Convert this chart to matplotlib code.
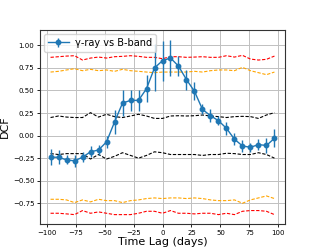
import matplotlib
matplotlib.use("Agg")
import matplotlib.pyplot as plt

lags = [-96.6, -89.7, -82.8, -75.9, -69.0, -62.1, -55.2, -48.3, -41.4, -34.5,
        -27.6, -20.7, -13.8, -6.9, 0.0, 6.9, 13.8, 20.7, 27.6, 34.5,
        41.4, 48.3, 55.2, 62.1, 69.0, 75.9, 82.8, 89.7, 96.6]

dcf = [-0.24, -0.24, -0.27, -0.28, -0.24, -0.18, -0.16, -0.07, 0.15, 0.36,
       0.39, 0.39, 0.52, 0.75, 0.83, 0.86, 0.77, 0.62, 0.49, 0.29,
       0.22, 0.165, 0.08, -0.04, -0.115, -0.13, -0.10, -0.11, -0.03]

dcf_err = [0.09, 0.08, 0.05, 0.07, 0.055, 0.06, 0.06, 0.07, 0.13, 0.14,
           0.12, 0.12, 0.15, 0.26, 0.22, 0.20, 0.11, 0.11, 0.10, 0.055,
           0.07, 0.05, 0.075, 0.07, 0.066, 0.05, 0.065, 0.08, 0.10]

red_up = [0.867, 0.874, 0.881, 0.885, 0.837, 0.859, 0.870, 0.859, 0.874, 0.878,
          0.885, 0.878, 0.867, 0.867, 0.852, 0.874, 0.874, 0.867, 0.870, 0.874,
          0.867, 0.867, 0.885, 0.870, 0.889, 0.848, 0.837, 0.845, 0.881]
orange_up = [0.704, 0.712, 0.727, 0.741, 0.719, 0.734, 0.719, 0.727, 0.712, 0.734,
             0.719, 0.712, 0.704, 0.697, 0.704, 0.704, 0.704, 0.704, 0.712, 0.704,
             0.719, 0.727, 0.727, 0.719, 0.756, 0.719, 0.697, 0.675, 0.704]
black_up = [0.200, 0.217, 0.205, 0.200, 0.200, 0.254, 0.205, 0.236, 0.210, 0.200,
            0.217, 0.236, 0.217, 0.190, 0.190, 0.217, 0.220, 0.217, 0.220, 0.228,
            0.217, 0.210, 0.200, 0.210, 0.213, 0.210, 0.190, 0.228, 0.254]
black_lo = [-0.200, -0.210, -0.200, -0.200, -0.200, -0.260, -0.210, -0.260, -0.230, -0.190,
            -0.220, -0.250, -0.220, -0.180, -0.190, -0.210, -0.210, -0.210, -0.210, -0.220,
            -0.210, -0.210, -0.196, -0.200, -0.210, -0.210, -0.190, -0.210, -0.250]
orange_lo = [-0.706, -0.706, -0.713, -0.743, -0.713, -0.735, -0.706, -0.721, -0.721, -0.743,
             -0.721, -0.713, -0.698, -0.691, -0.698, -0.691, -0.691, -0.698, -0.691, -0.698,
             -0.713, -0.721, -0.721, -0.713, -0.750, -0.713, -0.691, -0.669, -0.698]
red_lo = [-0.861, -0.861, -0.868, -0.876, -0.831, -0.861, -0.846, -0.861, -0.876, -0.876,
          -0.876, -0.861, -0.839, -0.839, -0.861, -0.831, -0.861, -0.861, -0.868, -0.861,
          -0.861, -0.876, -0.861, -0.876, -0.839, -0.831, -0.831, -0.839, -0.876]

xticks = [-100, -75, -50, -25, 0, 25, 50, 75, 100]
yticks = [-0.75, -0.50, -0.25, 0.00, 0.25, 0.50, 0.75, 1.00]

fig = plt.figure(figsize=(3.17, 2.52), dpi=100)
ax = fig.add_axes([40/317, 1 - 224/252, 245/317, 194/252])

for ys, c in [(red_up, 'red'), (orange_up, 'orange'), (black_up, 'black'),
              (black_lo, 'black'), (orange_lo, 'orange'), (red_lo, 'red')]:
    ax.plot(lags, ys, ls='--', color=c, lw=0.8, dashes=(3, 1.5))

ax.errorbar(lags, dcf, yerr=dcf_err, fmt='-o', color='#1f77b4', ms=3.2, lw=1.0,
            elinewidth=1.0, capsize=0, label='γ-ray vs B-band')

ax.set_xlim(-105.7, 105.7)
ax.set_ylim(-0.98, 1.17)
ax.set_xticks(xticks)
ax.set_yticks(yticks)
ax.tick_params(labelsize=5, length=2, width=0.6, pad=2)
ax.grid(True, color='#c0c0c0', lw=0.7)
ax.set_axisbelow(True)
for s in ax.spines.values():
    s.set_linewidth(0.8)
    s.set_color('#333333')
ax.set_xlabel('Time Lag (days)', fontsize=8, labelpad=1)
ax.set_ylabel('DCF', fontsize=8, labelpad=2)
ax.legend(loc='upper left', fontsize=7, handlelength=2.2, borderpad=0.4,
          handletextpad=0.6, borderaxespad=0.4)

fig.savefig('out.png', dpi=100)
